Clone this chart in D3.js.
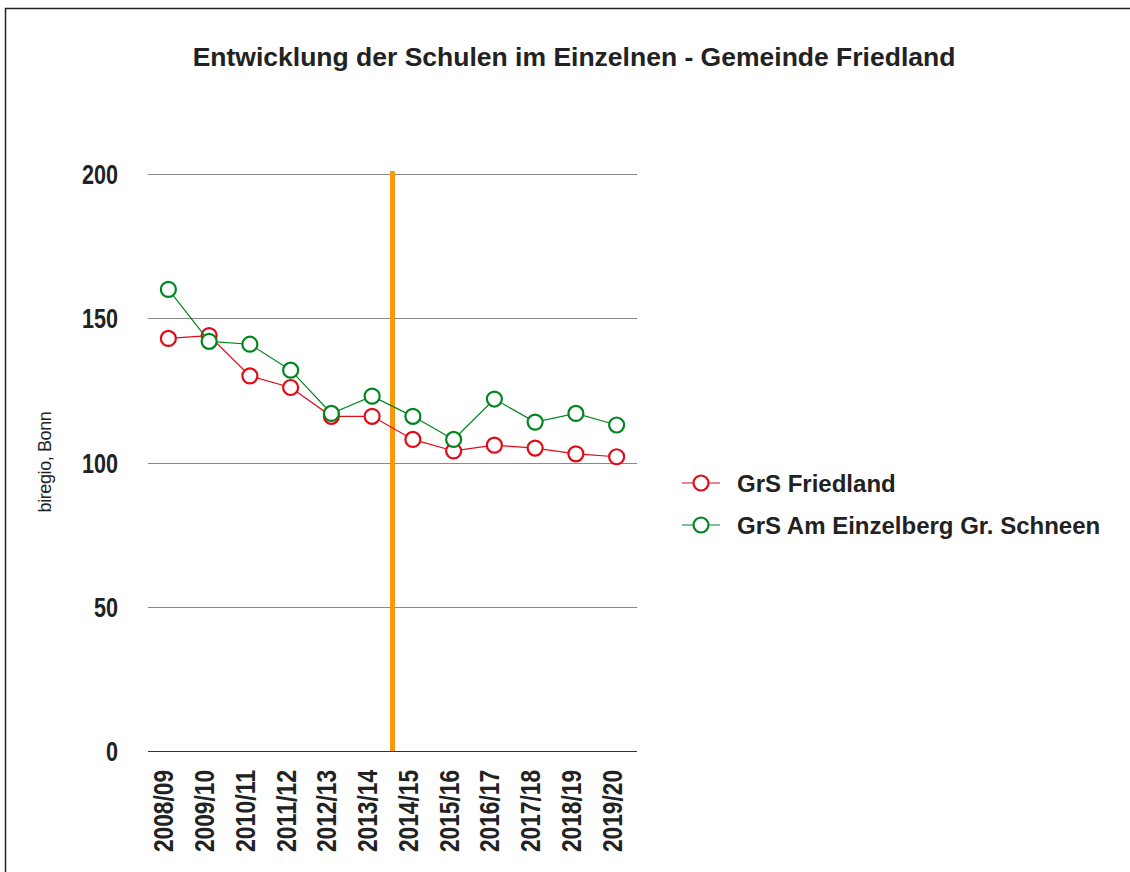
<!DOCTYPE html>
<html>
<head>
<meta charset="utf-8">
<script src="https://cdn.jsdelivr.net/npm/d3@7"></script>
<style>
  body { margin: 0; background: #fff; }
  svg { display: block; font-family: "Liberation Sans", Arial, sans-serif; }
</style>
</head>
<body>
<svg id="chart" width="1130" height="872"></svg>
<script>
var years = ["2008/09", "2009/10", "2010/11", "2011/12", "2012/13", "2013/14",
             "2014/15", "2015/16", "2016/17", "2017/18", "2018/19", "2019/20"];
var friedland = [143, 144, 130, 126, 116, 116, 108, 104, 106, 105, 103, 102];
var schneen = [160, 142, 141, 132, 117, 123, 116, 108, 122, 114, 117, 113];
var yTicks = [0, 50, 100, 150, 200];
var seriesNames = ["GrS Friedland", "GrS Am Einzelberg Gr. Schneen"];
var seriesColors = ["#e20a17", "#00861f"];
var markerYear = "2014/15";

var svg = d3.select("svg#chart");

// outer frame, runs off the right and bottom edges
svg.append("rect")
    .attr("x", 5.5)
    .attr("y", 8.5)
    .attr("width", 1140)
    .attr("height", 880)
    .attr("fill", "none")
    .attr("stroke", "#222")
    .attr("stroke-width", 1.5);

svg.append("text")
    .attr("x", 574)
    .attr("y", 66)
    .attr("text-anchor", "middle")
    .attr("font-size", 26.5)
    .attr("font-weight", "bold")
    .attr("fill", "#222")
    .text("Entwicklung der Schulen im Einzelnen - Gemeinde Friedland");

var x = d3.scaleBand()
    .domain(years)
    .range([148, 637]);

var y = d3.scaleLinear()
    .domain([0, 200])
    .range([751, 174]);

var cx = function(d) { return x(d) + x.bandwidth() / 2; };

// gridlines
svg.append("g")
    .selectAll("line")
    .data(yTicks)
    .enter().append("line")
        .attr("x1", 148)
        .attr("x2", 637)
        .attr("y1", function(d) { return Math.round(y(d)) + 0.5; })
        .attr("y2", function(d) { return Math.round(y(d)) + 0.5; })
        .attr("stroke", function(d) { return d == 0 ? "#333" : "#888"; })
        .attr("stroke-width", 1.2);

// y tick labels (narrow, heavy)
svg.append("g")
    .selectAll("text")
    .data(yTicks)
    .enter().append("text")
        .attr("x", 118)
        .attr("y", function(d) { return y(d) + 10; })
        .attr("text-anchor", "end")
        .attr("font-size", 28)
        .attr("font-weight", "bold")
        .attr("textLength", function(d) { return String(d).length * 12; })
        .attr("lengthAdjust", "spacingAndGlyphs")
        .attr("fill", "#222")
        .text(function(d) { return d; });

svg.append("text")
    .attr("transform", "translate(51,462) rotate(-90)")
    .attr("text-anchor", "middle")
    .attr("font-size", 18)
    .attr("letter-spacing", -0.4)
    .attr("fill", "#222")
    .text("biregio, Bonn");

// x tick labels, rotated
svg.append("g")
    .selectAll("text")
    .data(years)
    .enter().append("text")
        .attr("transform", function(d) { return "translate(" + (cx(d) + 5) + ",770) rotate(-90)"; })
        .attr("text-anchor", "end")
        .attr("font-size", 28)
        .attr("font-weight", "bold")
        .attr("textLength", 82)
        .attr("lengthAdjust", "spacingAndGlyphs")
        .attr("fill", "#222")
        .text(function(d) { return d; });

// orange marker line between 2013/14 and 2014/15
svg.append("line")
    .attr("x1", x(markerYear))
    .attr("x2", x(markerYear))
    .attr("y1", 171)
    .attr("y2", y(0))
    .attr("stroke", "#f7990f")
    .attr("stroke-width", 5);

var line = d3.line()
    .x(function(d, i) { return cx(years[i]); })
    .y(function(d) { return y(d); });

[friedland, schneen].forEach(function(values, k) {
    var g = svg.append("g");
    g.append("path")
        .datum(values)
        .attr("d", line)
        .attr("fill", "none")
        .attr("stroke", seriesColors[k])
        .attr("stroke-width", 1.2);
    g.selectAll("circle")
        .data(values)
        .enter().append("circle")
            .attr("cx", function(d, i) { return cx(years[i]); })
            .attr("cy", function(d) { return y(d); })
            .attr("r", 7.5)
            .attr("fill", "#fff")
            .attr("stroke", seriesColors[k])
            .attr("stroke-width", 2.2);
});

// legend
var legend = svg.append("g")
    .selectAll("g")
    .data(seriesNames)
    .enter().append("g")
        .attr("transform", function(d, i) { return "translate(682," + (483 + i * 42) + ")"; });

legend.append("line")
    .attr("x1", 0)
    .attr("x2", 38)
    .attr("stroke", function(d, i) { return seriesColors[i]; })
    .attr("stroke-width", 1.2);

legend.append("circle")
    .attr("cx", 19)
    .attr("r", 7.5)
    .attr("fill", "#fff")
    .attr("stroke", function(d, i) { return seriesColors[i]; })
    .attr("stroke-width", 2.2);

legend.append("text")
    .attr("x", 55)
    .attr("y", 8.5)
    .attr("font-size", 24)
    .attr("font-weight", "bold")
    .attr("fill", "#222")
    .text(function(d) { return d; });
</script>
</body>
</html>
